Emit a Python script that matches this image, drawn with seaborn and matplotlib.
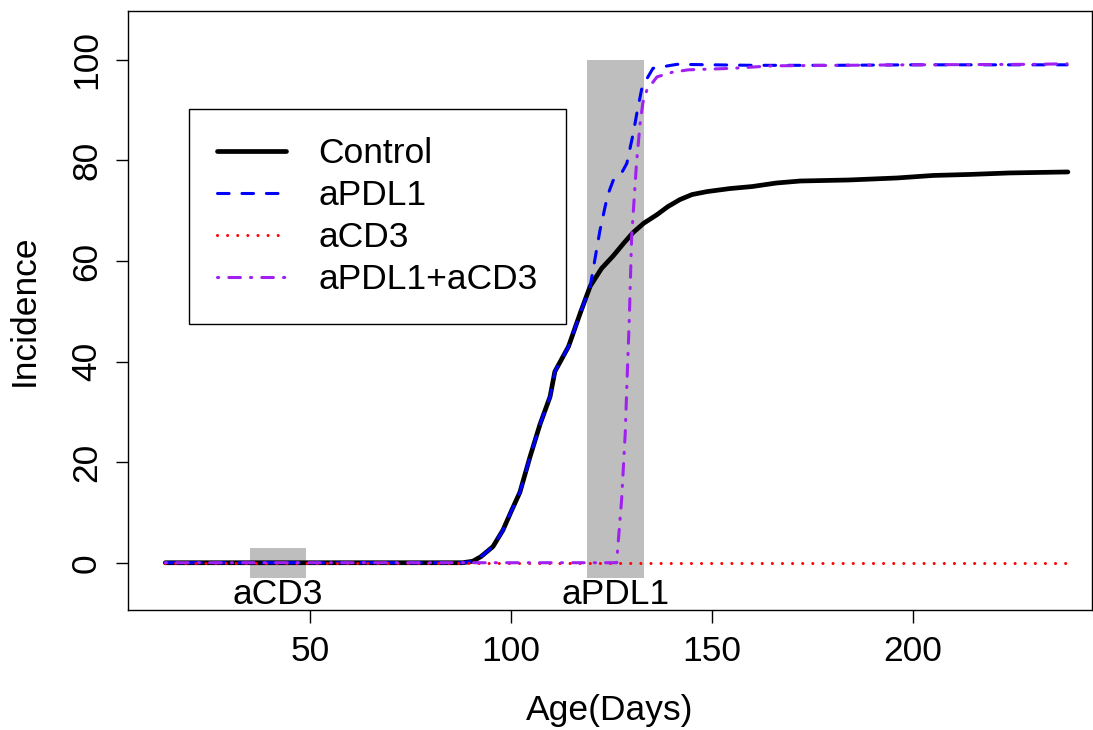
import matplotlib
matplotlib.use("Agg")
import matplotlib.pyplot as plt
import seaborn as sns
import pandas as pd
from matplotlib.patches import Rectangle

# ---------------- data ----------------
control_x = [14, 88, 90.5, 92.5, 95.5, 98, 100.2, 102.2, 104.7, 107.2, 109.7, 110.9,
             114.3, 117.2, 119.7, 122.5, 125.4, 128, 130.3, 133, 136.3, 139, 142, 145,
             148.8, 154.5, 160, 166, 172, 184, 196, 205, 214, 224, 238.5]
control_y = [0, 0, 0.3, 1.2, 3.2, 6.5, 10.5, 14, 21, 27.5, 33, 38,
             43, 49.6, 55, 58.5, 61, 63.5, 65.6, 67.5, 69.2, 70.8, 72.2, 73.2,
             73.8, 74.4, 74.8, 75.5, 75.9, 76.1, 76.5, 77, 77.2, 77.5, 77.7]

apdl1_x = [14, 88, 90.5, 92.5, 95.5, 98, 100.2, 102.2, 104.7, 107.2, 109.7, 110.9,
           114.3, 117.2, 119.7, 122.1, 124, 125.4, 127.5, 128.8, 130.4, 131.3, 132.6,
           135.3, 141.3, 150, 160, 180, 200, 220, 238.3]
apdl1_y = [0, 0, 0.3, 1.2, 3.2, 6.5, 10.5, 14, 21, 27.5, 33, 38,
           43, 49.6, 55, 66, 73, 76, 77.5, 79.4, 85.4, 89.4, 94.6,
           98.3, 99.1, 99.0, 98.9, 98.9, 99, 99, 99]

acd3_x = [14, 238.5]
acd3_y = [0, 0]

combo_x = [14, 126.3, 126.5, 127.5, 128.4, 128.8, 129.4, 130.0, 131.2, 132.1, 132.8,
           133.8, 136.3, 140, 144, 155, 165, 200, 230, 238.3]
combo_y = [0, 0, 2.5, 12.5, 25.7, 35, 48.2, 64.8, 79.4, 87.3, 91.5,
           94, 96.6, 97.5, 98, 98.3, 98.8, 99, 99.1, 99.2]

series_names = ["Control", "aPDL1", "aCD3", "aPDL1+aCD3"]
series_colors = ["black", "#0000FF", "#FF0000", "#A020F0"]

treat_labels = ["aCD3", "aPDL1"]
treat_start = [35, 119]
treat_end = [49, 133]
treat_low = [-3, -3]
treat_high = [3, 100]
treat_label_y = [-8.2, -8.2]

xticks = [50, 100, 150, 200]
yticks = [0, 20, 40, 60, 80, 100]

# ---------------- style ----------------
sns.set_theme(style="ticks")
plt.rcParams['font.family'] = ['Liberation Sans', 'DejaVu Sans']
plt.rcParams['text.color'] = 'black'
plt.rcParams['axes.labelcolor'] = 'black'
FS = 25.5

fig = plt.figure(figsize=(10.93, 7.3), dpi=100)
ax = fig.add_axes([128 / 1093, 1 - 610 / 730, 964 / 1093, 599 / 730])

# treatment windows
for lab, x0, x1, y0, y1, ly in zip(treat_labels, treat_start, treat_end,
                                   treat_low, treat_high, treat_label_y):
    ax.add_patch(Rectangle((x0, y0), x1 - x0, y1 - y0, facecolor="#BEBEBE",
                           edgecolor="none", zorder=1))
    ax.text((x0 + x1) / 2, ly, lab, ha="center", va="baseline", fontsize=FS,
            color="black", zorder=5)

xs_all = [control_x, apdl1_x, acd3_x, combo_x]
ys_all = [control_y, apdl1_y, acd3_y, combo_y]
widths = [3.4, 2.2, 2.2, 2.2]
dash_patterns = [None, (3.8, 4.2), (0.01, 3.3), (0.4, 3.3, 3.8, 3.3)]

handles = []
for name, xs, ys, col, lw, dp in zip(series_names, xs_all, ys_all, series_colors,
                                     widths, dash_patterns):
    df = pd.DataFrame({"x": xs, "y": ys})
    sns.lineplot(data=df, x="x", y="y", ax=ax, color=col, linewidth=lw,
                 estimator=None, sort=False, label=name, zorder=3)
    line = ax.get_lines()[-1]
    line.set_solid_capstyle("round")
    line.set_dash_capstyle("round")
    if dp is not None:
        line.set_dashes(dp)
    handles.append(line)

ax.set_xlim(4.73, 244.5)
ax.set_ylim(-9.4, 109.7)
ax.set_xticks(xticks)
ax.set_yticks(yticks)
ax.set_xticklabels([str(v) for v in xticks])
ax.set_yticklabels([str(v) for v in yticks])
ax.tick_params(axis="both", direction="out", length=9, width=1.0, pad=9,
               labelsize=FS, colors="black")
ax.tick_params(axis="y", labelrotation=90)
for lab in ax.get_yticklabels():
    lab.set_va("center")

ax.set_xlabel("Age(Days)", fontsize=FS, labelpad=19, color="black")
ax.set_ylabel("Incidence", fontsize=FS, labelpad=21, color="black")

for sp in ax.spines.values():
    sp.set_visible(True)
    sp.set_color("black")
    sp.set_linewidth(1.0)

leg = ax.legend(handles=handles, labels=series_names, loc="upper left",
                bbox_to_anchor=((189 - 128) / 964, 1 - (109 - 11) / 599),
                borderaxespad=0, fontsize=FS, frameon=True, fancybox=False,
                handlelength=1.95, handletextpad=0.9, borderpad=0.8,
                labelspacing=0.25, labelcolor="black")
leg.get_frame().set_edgecolor("black")
leg.get_frame().set_linewidth(1.0)
leg.get_frame().set_facecolor("white")
leg.get_frame().set_alpha(1)

fig.savefig("out.png", dpi=100)
